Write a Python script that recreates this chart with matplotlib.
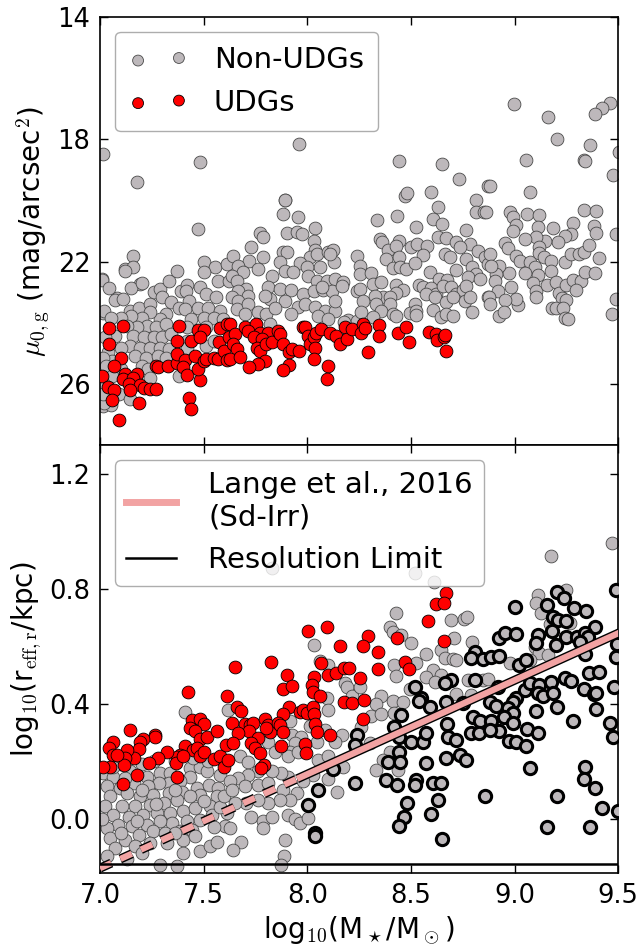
import numpy as np
import matplotlib
matplotlib.use('Agg')
import matplotlib.pyplot as plt
import matplotlib.patheffects as pe
from matplotlib.lines import Line2D

plt.rcParams['mathtext.fontset'] = 'cm'
plt.rcParams['font.family'] = ['DejaVu Sans']

# ---- top panel: central surface brightness (x = log10 M*, y = mu_0,g)
nonudg_mu = [
    (7.015, 18.49), (7.18, 19.38), (7.48, 18.75), (7.96, 18.16), (7.89, 19.97), (7.12, 22.23), (7.19, 22.72),
    (7.01, 22.56), (7.08, 23.2), (7.015, 23.67), (7.015, 26.72), (7.05, 26.69),
    (7.47, 20.93), (7.16, 21.8), (7.16, 22.16), (7.12, 22.3), (7.01, 22.6), (7.045, 22.86), (7.15, 22.86),
    (7.2, 22.7), (7.07, 23.26), (7.11, 23.22), (7.145, 23.6), (7.185, 23.52), (7.02, 23.6), (7.24, 23.4),
    (7.26, 23.0), (7.29, 22.9), (7.33, 22.62), (7.3, 23.17), (7.34, 23.33), (7.37, 22.32), (7.39, 22.95),
    (7.42, 22.75), (7.415, 22.97), (7.43, 23.28), (7.48, 22.82), (7.5, 22.02), (7.555, 22.19), (7.57, 22.62),
    (7.61, 22.08), (7.62, 22.62), (7.5, 22.35), (7.51, 23.06), (7.56, 23.17), (7.38, 23.5), (7.41, 23.55),
    (7.47, 23.5), (7.52, 23.5), (7.58, 23.6), (7.44, 23.88), (7.5, 23.83), (7.55, 23.83), (7.595, 23.88),
    (7.32, 23.72), (7.29, 23.88), (7.24, 23.66), (7.2, 23.83), (7.15, 23.77), (7.1, 23.83), (7.05, 23.83),
    (7.225, 24.1), (7.18, 24.15), (7.13, 24.1), (7.27, 24.15), (7.32, 24.04), (7.42, 24.15), (7.51, 24.15),
    (7.16, 24.43), (7.21, 24.48), (7.26, 24.48), (7.3, 24.48), (7.34, 24.37), (7.07, 24.43), (7.025, 24.48),
    (7.145, 24.75), (7.19, 24.81), (7.24, 24.81), (7.29, 24.81), (7.33, 24.86), (7.42, 24.6), (7.42, 24.81),
    (7.51, 24.75), (7.55, 24.6), (7.1, 24.81), (7.04, 24.97), (7.17, 25.08), (7.22, 25.14), (7.28, 25.08),
    (7.32, 25.14), (7.055, 25.25), (7.015, 25.14), (7.2, 25.41), (7.23, 25.52), (7.1, 25.52), (7.03, 25.41),
    (7.38, 25.74), (7.24, 25.8), (7.055, 25.74), (7.015, 25.96), (7.09, 26.34), (7.145, 26.5), (7.02, 26.61),
    (7.015, 26.34),
    (7.89, 20.0), (7.88, 20.44), (7.955, 20.55), (7.77, 21.07), (7.787, 21.2), (7.9, 21.07), (7.948, 21.04),
    (7.975, 21.09), (8.036, 20.9), (8.033, 21.33), (8.036, 21.62), (7.73, 21.53), (7.64, 21.8), (7.72, 21.97),
    (7.787, 21.86), (7.88, 21.69), (7.9, 21.69), (8.012, 21.86), (8.044, 21.75), (8.1, 21.69), (8.124, 21.62),
    (8.13, 22.02), (8.06, 22.16), (7.964, 22.05), (7.666, 22.13), (7.69, 22.35), (7.763, 22.24), (7.827, 22.46),
    (7.87, 22.02), (7.89, 22.3), (7.93, 22.35), (7.996, 22.19), (8.004, 22.46), (8.044, 22.62), (8.093, 22.62),
    (8.133, 22.57), (8.173, 22.68), (7.634, 22.46), (7.658, 22.62), (7.706, 22.9), (7.666, 22.95), (7.634, 23.17),
    (7.715, 23.11), (7.81, 22.84), (7.867, 22.9), (7.923, 22.93), (7.98, 23.06), (8.03, 22.95), (8.076, 22.93),
    (8.117, 22.95), (8.165, 22.79), (7.819, 23.22), (7.795, 23.11), (7.89, 23.28), (7.956, 23.48), (7.988, 23.39),
    (8.036, 23.48), (8.085, 23.61), (8.133, 23.63), (7.666, 23.28), (7.658, 23.55), (7.715, 23.39), (7.698, 23.72),
    (7.763, 23.66), (7.8, 23.72), (7.843, 23.5), (7.923, 23.72), (8.052, 23.77), (8.1, 23.88), (8.197, 23.91),
    (8.237, 23.93), (7.819, 24.04), (8.237, 21.8), (8.237, 22.95), (8.134, 23.28), (8.07, 22.84), (8.11, 21.75),
    (8.175, 23.99),
    (8.442, 18.71), (8.651, 18.82), (8.731, 19.29), (8.871, 19.51), (8.469, 19.84), (8.48, 19.75), (8.598, 19.73),
    (8.63, 20.22), (8.812, 20.0), (8.815, 20.36), (8.852, 20.36), (8.336, 20.63), (8.434, 20.51), (8.522, 20.87),
    (8.606, 20.6), (8.651, 20.76), (8.767, 20.96), (8.349, 21.26), (8.361, 21.37), (8.442, 21.31), (8.501, 21.53),
    (8.529, 21.42), (8.577, 21.48), (8.63, 21.2), (8.67, 21.22), (8.719, 21.37), (8.786, 21.42), (8.738, 21.53),
    (8.389, 21.62), (8.426, 21.48), (8.558, 21.77), (8.662, 21.75), (8.686, 21.86), (8.823, 21.66), (8.855, 21.84),
    (8.378, 21.91), (8.442, 21.84), (8.413, 22.21), (8.445, 22.19), (8.477, 22.24), (8.517, 22.06), (8.252, 22.13),
    (8.255, 22.4), (8.308, 22.38), (8.59, 22.35), (8.635, 22.57), (8.674, 22.6), (8.719, 22.27), (8.767, 21.91),
    (8.796, 22.19), (8.815, 22.4), (8.775, 22.51), (8.831, 22.57), (8.871, 22.08), (8.538, 22.75), (8.558, 22.84),
    (8.598, 22.86), (8.622, 23.06), (8.654, 22.79), (8.694, 22.82), (8.719, 23.06), (8.751, 22.93), (8.767, 22.79),
    (8.255, 22.9), (8.316, 22.73), (8.357, 22.68), (8.429, 22.75), (8.461, 22.93), (8.426, 23.01), (8.365, 23.17),
    (8.397, 23.15), (8.268, 23.28), (8.324, 23.12), (8.332, 23.39), (8.397, 23.39), (8.574, 23.06), (8.614, 23.15),
    (8.67, 23.33), (8.702, 23.17), (8.759, 23.28), (8.783, 23.17), (8.871, 23.17), (8.517, 23.37), (8.357, 23.61),
    (8.413, 23.72), (8.429, 23.77), (8.493, 23.69), (8.526, 23.61), (8.526, 23.74), (8.606, 23.59), (8.646, 23.82),
    (8.67, 23.72), (8.702, 23.77), (8.796, 23.66), (8.26, 23.66), (8.316, 23.82),
    (8.995, 16.83), (9.16, 17.27), (9.461, 16.81), (9.423, 16.99), (9.39, 17.18), (9.206, 18.0), (9.362, 18.18),
    (9.053, 18.67), (9.334, 18.66), (9.339, 18.72), (9.503, 18.42), (9.474, 19.18), (8.879, 19.52), (9.072, 19.73),
    (8.863, 20.38), (8.976, 20.36), (8.992, 20.55), (9.008, 20.79), (8.992, 21.01), (9.061, 20.44), (9.12, 20.46),
    (9.112, 20.87), (9.185, 20.91), (9.334, 20.31), (9.394, 20.35), (9.284, 20.73), (9.381, 20.85), (9.391, 21.05),
    (9.487, 21.09), (9.273, 21.09), (9.241, 21.17), (9.209, 21.37), (9.149, 21.31), (9.101, 21.2), (9.048, 21.26),
    (8.956, 21.4), (8.968, 21.56), (8.879, 21.75), (9.008, 21.83), (9.024, 21.99), (9.072, 22.0), (9.117, 21.53),
    (9.12, 21.73), (9.14, 21.86), (9.177, 21.97), (9.177, 22.32), (9.096, 22.19), (9.112, 22.43), (9.048, 22.36),
    (8.975, 22.38), (8.926, 22.13), (8.911, 22.4), (8.903, 22.62), (8.887, 22.13), (8.984, 22.82), (8.92, 22.97),
    (9.088, 22.71), (9.101, 22.95), (9.104, 23.17), (9.156, 22.75), (9.201, 22.68), (9.214, 23.04), (9.249, 22.75),
    (9.284, 22.6), (9.321, 22.62), (9.338, 22.35), (9.39, 22.37), (9.243, 22.02), (9.273, 21.75), (9.313, 21.75),
    (9.337, 21.7), (9.358, 21.44), (9.407, 21.89), (9.294, 22.93), (9.23, 23.2), (9.246, 23.25), (9.181, 23.53),
    (9.201, 23.53), (9.233, 23.5), (9.241, 23.85), (9.257, 23.88), (9.016, 23.41), (9.005, 23.22), (8.956, 23.26),
    (8.876, 23.17), (8.882, 23.39), (8.924, 23.77), (8.947, 23.66), (9.49, 23.22), (9.471, 23.72),
]

udg_mu = [
    (7.045, 24.17), (7.11, 24.12), (7.045, 24.68), (7.38, 24.1), (7.37, 24.6), (7.10, 25.14), (7.065, 25.41),
    (7.01, 25.74), (7.12, 25.66), (7.18, 25.68), (7.11, 25.85), (7.16, 25.8), (7.14, 26.0), (7.04, 26.1),
    (7.065, 26.2), (7.19, 26.03), (7.145, 26.2), (7.21, 26.14), (7.24, 26.15), (7.27, 26.15), (7.055, 26.53),
    (7.185, 26.62), (7.09, 27.17), (7.27, 25.41), (7.28, 25.43), (7.325, 25.41), (7.37, 25.3), (7.37, 25.03),
    (7.41, 25.22), (7.40, 25.44), (7.42, 25.7), (7.46, 25.08), (7.47, 24.24), (7.5, 24.24), (7.44, 24.6),
    (7.48, 24.46), (7.48, 25.88), (7.47, 25.52), (7.5, 25.25), (7.51, 25.19), (7.55, 25.14), (7.57, 25.19),
    (7.58, 24.17), (7.61, 24.04), (7.575, 24.64), (7.60, 24.92), (7.61, 25.22), (7.62, 24.48), (7.43, 26.47),
    (7.44, 26.83),
    (7.626, 24.04), (7.65, 24.37), (7.70, 24.15), (7.75, 24.04), (7.715, 24.26), (7.77, 24.32), (7.81, 24.32),
    (7.64, 24.7), (7.66, 24.86), (7.626, 25.19), (7.674, 25.11), (7.74, 24.48), (7.78, 24.54), (7.755, 24.81),
    (7.77, 24.92), (7.80, 24.7), (7.83, 24.64), (7.795, 25.25), (7.76, 25.36), (7.72, 25.46), (7.86, 24.26),
    (7.87, 24.37), (7.88, 24.7), (7.91, 24.94), (7.925, 24.86), (7.96, 24.92), (7.91, 25.38), (7.883, 25.55),
    (7.98, 24.15), (7.99, 24.13), (8.004, 24.43), (8.012, 24.7), (8.03, 24.48), (8.04, 24.32), (8.068, 24.2),
    (8.036, 24.81), (8.033, 25.19), (8.109, 24.32), (8.14, 24.43), (8.157, 24.7), (8.18, 24.13), (8.19, 24.54),
    (8.213, 24.2), (8.1, 25.41), (8.096, 25.85),
    (8.268, 24.04), (8.26, 24.32), (8.276, 24.18), (8.345, 24.07), (8.345, 24.43), (8.437, 24.32), (8.474, 24.15),
    (8.49, 24.62), (8.587, 24.29), (8.622, 24.37), (8.625, 24.57), (8.657, 24.46), (8.662, 24.39), (8.67, 24.92),
    (8.292, 24.97),
]

# ---- bottom panel: effective radius (x = log10 M*, y = log10 r_eff)
nonudg_re = [
    (7.41, 0.372), (7.619, 0.378), (7.016, 0.158), (7.064, 0.146), (7.145, 0.164), (7.225, 0.146), (7.29, 0.158),
    (7.338, 0.158), (7.434, 0.175), (7.483, 0.181), (7.515, 0.164), (7.434, 0.146), (7.386, 0.129), (7.33, 0.123),
    (7.282, 0.123), (7.233, 0.112), (7.161, 0.123), (7.097, 0.106), (7.032, 0.112), (7.048, 0.077), (7.129, 0.088),
    (7.193, 0.077), (7.257, 0.083), (7.33, 0.088), (7.394, 0.094), (7.467, 0.106), (7.523, 0.117), (7.571, 0.106),
    (7.563, 0.077), (7.483, 0.083), (7.434, 0.077), (7.37, 0.065), (7.306, 0.054), (7.241, 0.048), (7.169, 0.042),
    (7.105, 0.042), (7.024, 0.042), (7.064, 0.013), (7.137, 0.007), (7.209, 0.013), (7.273, 0.019), (7.338, 0.019),
    (7.402, 0.025), (7.459, 0.036), (7.531, 0.042), (7.539, 0.013), (7.483, -0.004), (7.418, -0.01), (7.346, -0.015),
    (7.29, -0.01), (7.225, -0.021), (7.153, -0.027), (7.088, -0.021), (7.032, -0.033), (7.048, -0.068),
    (7.121, -0.074), (7.185, -0.056), (7.257, -0.045), (7.314, -0.051), (7.386, -0.045), (7.442, -0.039),
    (7.402, -0.074), (7.322, -0.085), (7.241, -0.085), (7.169, -0.097), (7.072, -0.103), (7.032, -0.132),
    (7.483, -0.114), (7.531, -0.097), (7.563, -0.08), (7.29, -0.161), (7.37, -0.165), (7.611, 0.019),
    (7.603, -0.027), (7.2, 0.19), (7.26, 0.2), (7.36, 0.2), (7.1, 0.19), (7.06, 0.18), (7.45, 0.21), (7.52, 0.2),
    (7.58, 0.15), (7.12, 0.14), (7.2, 0.1), (7.36, 0.1), (7.5, 0.06), (7.58, 0.04), (7.27, 0.05), (7.18, -0.01),
    (7.36, -0.05), (7.46, -0.06), (7.1, -0.05), (7.01, 0.0), (7.2, -0.12), (7.13, -0.14), (7.4, -0.12),
    (7.55, -0.03), (7.6, 0.08),
    (8.033, 0.604), (8.181, 0.473), (8.19, 0.459), (8.213, 0.427), (8.06, 0.55), (8.1, 0.535), (8.097, 0.419),
    (8.1, 0.378), (7.916, 0.338), (7.924, 0.291), (8.012, 0.323), (8.085, 0.309), (8.165, 0.291), (8.133, 0.268),
    (8.044, 0.268), (7.971, 0.285), (7.94, 0.262), (7.916, 0.233), (7.811, 0.268), (7.674, 0.216), (7.715, 0.198),
    (7.843, 0.233), (7.908, 0.216), (7.956, 0.233), (8.052, 0.204), (8.1, 0.216), (8.173, 0.181), (8.1, 0.137),
    (8.028, 0.152), (7.98, 0.129), (7.908, 0.146), (7.875, 0.158), (7.827, 0.164), (7.763, 0.164), (7.715, 0.152),
    (7.666, 0.14), (7.626, 0.129), (7.634, 0.1), (7.698, 0.112), (7.763, 0.117), (7.811, 0.123), (7.883, 0.1),
    (7.948, 0.088), (7.916, 0.065), (7.867, 0.065), (7.811, 0.054), (7.763, 0.065), (7.706, 0.054), (7.65, 0.054),
    (8.141, 0.094), (7.73, 0.007), (7.787, -0.01), (7.827, 0.007), (7.787, -0.034), (7.908, 0.013), (7.94, -0.002),
    (7.964, -0.016), (8.004, 0.001), (7.626, -0.034), (7.682, -0.083), (7.642, -0.109), (7.891, -0.074),
    (7.888, -0.132), (7.875, -0.161), (7.83, 0.872),
    (8.426, 0.717), (8.695, 0.691), (8.754, 0.694), (8.77, 0.703), (8.397, 0.668), (8.413, 0.651), (8.453, 0.639),
    (8.501, 0.61), (8.574, 0.573), (8.646, 0.587), (8.706, 0.628), (8.796, 0.616), (8.662, 0.558), (8.702, 0.554),
    (8.719, 0.552), (8.416, 0.535), (8.526, 0.54), (8.606, 0.517), (8.646, 0.5), (8.574, 0.492), (8.614, 0.477),
    (8.429, 0.497), (8.493, 0.45), (8.775, 0.483), (8.847, 0.483), (8.719, 0.434), (8.791, 0.43), (8.255, 0.457),
    (8.357, 0.425), (8.332, 0.399), (8.308, 0.358), (8.357, 0.364), (8.413, 0.41), (8.461, 0.404), (8.416, 0.367),
    (8.26, 0.32), (8.397, 0.233), (8.365, 0.204), (8.332, 0.17), (8.437, 0.17), (8.3, 0.262), (8.521, 0.856),
    (8.612, 0.825),
    (9.471, 0.96), (9.177, 0.914), (9.112, 0.778), (9.104, 0.749), (9.249, 0.796), (9.128, 0.714), (9.169, 0.677),
    (9.265, 0.68), (9.096, 0.598), (9.12, 0.578), (9.161, 0.569), (8.976, 0.54), (9.072, 0.552), (8.871, 0.485),
]

udg_re = [
    (7.426, 0.442), (7.611, 0.425), (7.442, 0.344), (7.483, 0.346), (7.5, 0.33), (7.434, 0.314), (7.459, 0.306),
    (7.483, 0.276), (7.515, 0.283), (7.566, 0.306), (7.41, 0.251), (7.447, 0.239), (7.467, 0.245), (7.483, 0.216),
    (7.502, 0.233), (7.386, 0.222), (7.373, 0.214), (7.367, 0.193), (7.402, 0.216), (7.37, 0.146), (7.322, 0.233),
    (7.278, 0.21), (7.238, 0.193), (7.265, 0.291), (7.265, 0.283), (7.209, 0.276), (7.19, 0.268), (7.185, 0.241),
    (7.142, 0.309), (7.161, 0.21), (7.129, 0.239), (7.121, 0.21), (7.113, 0.187), (7.064, 0.268), (7.045, 0.245),
    (7.061, 0.222), (7.08, 0.222), (7.048, 0.181), (7.016, 0.178), (7.18, 0.152), (7.108, 0.121), (7.547, 0.207),
    (7.579, 0.216), (7.598, 0.181), (7.619, 0.204), (7.608, 0.256),
    (8.004, 0.653), (8.096, 0.666), (8.157, 0.601), (7.65, 0.529), (7.822, 0.544), (7.904, 0.5), (7.883, 0.451),
    (7.927, 0.463), (8.033, 0.492), (8.02, 0.465), (8.028, 0.442), (8.06, 0.427), (8.065, 0.541), (8.1, 0.5),
    (8.14, 0.506), (8.178, 0.523), (8.2, 0.523), (8.178, 0.407), (8.213, 0.401), (7.658, 0.387), (7.679, 0.376),
    (7.911, 0.39), (7.883, 0.364), (7.964, 0.372), (7.98, 0.378), (8.0, 0.367), (8.028, 0.387), (8.033, 0.364),
    (8.036, 0.33), (8.044, 0.303), (8.109, 0.291), (7.637, 0.332), (7.698, 0.329), (7.723, 0.326), (7.739, 0.334),
    (7.718, 0.306), (7.666, 0.299), (7.795, 0.346), (7.808, 0.326), (7.819, 0.303), (7.798, 0.315), (7.859, 0.334),
    (7.867, 0.326), (7.883, 0.303), (7.763, 0.28), (7.642, 0.262), (7.73, 0.262), (7.747, 0.245), (7.771, 0.228),
    (7.792, 0.187), (7.776, 0.175), (7.872, 0.253), (7.988, 0.26), (7.991, 0.228),
    (8.67, 0.784), (8.622, 0.746), (8.657, 0.749), (8.582, 0.688), (8.657, 0.618), (8.292, 0.637), (8.268, 0.601),
    (8.434, 0.63), (8.341, 0.581), (8.472, 0.544), (8.489, 0.52), (8.341, 0.52), (8.255, 0.488), (8.271, 0.413),
    (8.268, 0.346),
]

# galaxies drawn with thick black edges
resolved_re = [
    (8.237, 0.291), (8.229, 0.257), (8.229, 0.123), (8.125, 0.172), (8.049, 0.1), (8.004, 0.048), (8.036, -0.05),
    (8.039, -0.062),
    (8.807, 0.581), (8.791, 0.558), (8.847, 0.554), (8.807, 0.483), (8.694, 0.483), (8.662, 0.471), (8.517, 0.459),
    (8.55, 0.419), (8.538, 0.41), (8.593, 0.39), (8.67, 0.407), (8.751, 0.401), (8.799, 0.355), (8.831, 0.338),
    (8.791, 0.297), (8.828, 0.297), (8.674, 0.33), (8.678, 0.285), (8.719, 0.274), (8.453, 0.361), (8.416, 0.32),
    (8.442, 0.285), (8.501, 0.268), (8.558, 0.268), (8.574, 0.297), (8.442, 0.233), (8.389, 0.198), (8.445, 0.198),
    (8.574, 0.195), (8.67, 0.21), (8.735, 0.222), (8.767, 0.204), (8.381, 0.135), (8.432, 0.117), (8.526, 0.135),
    (8.518, 0.117), (8.606, 0.123), (8.646, 0.125), (8.48, 0.053), (8.63, 0.065), (8.598, 0.015), (8.466, 0.007),
    (8.442, -0.026), (8.651, -0.072), (8.855, 0.077),
    (9.49, 0.796), (9.204, 0.79), (9.238, 0.767), (9.157, 0.743), (9.0, 0.735), (9.289, 0.732), (9.346, 0.724),
    (9.185, 0.7), (9.209, 0.691), (9.246, 0.689), (9.39, 0.666), (8.927, 0.627), (8.956, 0.645), (9.005, 0.641),
    (9.112, 0.639), (9.181, 0.653), (9.249, 0.633), (9.301, 0.633), (9.342, 0.647), (9.354, 0.631), (9.101, 0.61),
    (9.198, 0.604), (9.317, 0.613), (9.338, 0.573), (8.887, 0.561), (8.924, 0.566), (9.021, 0.535), (9.053, 0.552),
    (9.494, 0.608), (9.49, 0.564), (8.919, 0.459), (9.005, 0.419), (8.992, 0.407), (9.048, 0.448), (9.072, 0.471),
    (9.12, 0.465), (9.177, 0.477), (9.112, 0.436), (9.136, 0.425), (9.185, 0.436), (9.241, 0.488), (9.273, 0.48),
    (9.333, 0.45), (9.358, 0.508), (9.407, 0.511), (9.381, 0.434), (9.394, 0.438), (9.482, 0.459), (8.879, 0.407),
    (8.911, 0.392), (8.968, 0.384), (8.992, 0.369), (8.951, 0.353), (8.992, 0.332), (9.101, 0.376), (9.206, 0.39),
    (9.394, 0.38), (8.887, 0.338), (8.924, 0.306), (8.879, 0.309), (8.972, 0.271), (9.008, 0.268), (9.053, 0.253),
    (9.061, 0.311), (9.112, 0.297), (9.281, 0.338), (9.461, 0.332), (9.474, 0.283), (9.072, 0.175), (9.338, 0.179),
    (9.333, 0.137), (9.386, 0.106), (9.204, 0.077), (9.421, 0.036), (9.498, 0.025), (9.157, -0.03), (9.362, -0.028),
]

# Lange et al. 2016 (Sd-Irr) size-mass relation: slope and value at log M = 9.5
lange_slope = 0.327
lange_at_95 = 0.645
lange_break = 7.95      # dashed below this mass
res_limit = -0.157      # resolution limit, log10(kpc)

nonudg_mu = np.array(nonudg_mu)
udg_mu = np.array(udg_mu)
nonudg_re = np.array(nonudg_re)
udg_re = np.array(udg_re)
resolved_re = np.array(resolved_re)

gray = '#bdb8bb'
pink = '#f2a3a3'
msize = 85

fig, (ax1, ax2) = plt.subplots(2, 1, sharex=True, figsize=(6.38, 9.47), dpi=100)
fig.subplots_adjust(left=0.157, right=0.969, top=0.982, bottom=0.078, hspace=0)

# top panel
ax1.scatter(nonudg_mu[:, 0], nonudg_mu[:, 1], s=msize, c=gray, edgecolors='#4a4a4a', linewidths=0.6,
            label='Non-UDGs', zorder=2)
ax1.scatter(udg_mu[:, 0], udg_mu[:, 1], s=msize, c='red', edgecolors='k', linewidths=0.6,
            label='UDGs', zorder=3)
ax1.set_ylim(28, 14)
ax1.set_yticks([14, 18, 22, 26])
ax1.set_ylabel(r'$\mu_{0,\rm g}$ (mag/arcsec$^2$)', fontsize=20)
ax1.legend(loc='upper left', scatterpoints=2, markerscale=0.85, fontsize=21, fancybox=True, framealpha=0.8,
           edgecolor='0.6', handlelength=2.0, handletextpad=0.9, borderpad=0.5)

# bottom panel
ax2.scatter(nonudg_re[:, 0], nonudg_re[:, 1], s=msize, c=gray, edgecolors='#4a4a4a', linewidths=0.6, zorder=2)
ax2.scatter(udg_re[:, 0], udg_re[:, 1], s=msize, c='red', edgecolors='k', linewidths=0.6, zorder=3)
ax2.scatter(resolved_re[:, 0], resolved_re[:, 1], s=78, c=gray, edgecolors='k', linewidths=2.2, zorder=4)

xs = np.linspace(lange_break, 9.6, 50)
xd = np.linspace(6.9, lange_break, 50)
outline = [pe.Stroke(linewidth=6.5, foreground='k'), pe.Normal()]
ax2.plot(xs, lange_at_95 + lange_slope * (xs - 9.5), color=pink, lw=4.5, solid_capstyle='butt',
         path_effects=outline, zorder=5)
ax2.plot(xd, lange_at_95 + lange_slope * (xd - 9.5), color=pink, lw=4.5, dashes=(2.0, 1.6),
         path_effects=outline, zorder=5)
ax2.axhline(res_limit, color='k', lw=1.8, zorder=5)

handles = [Line2D([], [], color=pink, lw=5), Line2D([], [], color='k', lw=1.8)]
ax2.legend(handles, ['Lange et al., 2016\n(Sd-Irr)', 'Resolution Limit'], loc='upper left', fontsize=21,
           fancybox=True, framealpha=0.8, edgecolor='0.6', handlelength=1.7, handletextpad=1.1)

ax2.set_ylim(-0.19, 1.3)
ax2.set_yticks([0.0, 0.4, 0.8, 1.2])
ax2.set_xlim(7.0, 9.5)
ax2.set_xticks([7.0, 7.5, 8.0, 8.5, 9.0, 9.5])
ax2.set_xlabel(r'log$_{10}$(M$_\star$/M$_\odot$)', fontsize=20)
ax2.set_ylabel(r'log$_{10}$(r$_{\rm eff,r}$/kpc)', fontsize=20)

for ax in (ax1, ax2):
    ax.tick_params(direction='in', top=True, right=True, length=6, width=1, labelsize=18.5, pad=7)
    for sp in ax.spines.values():
        sp.set_linewidth(1.2)

plt.savefig('out.png', dpi=100)
